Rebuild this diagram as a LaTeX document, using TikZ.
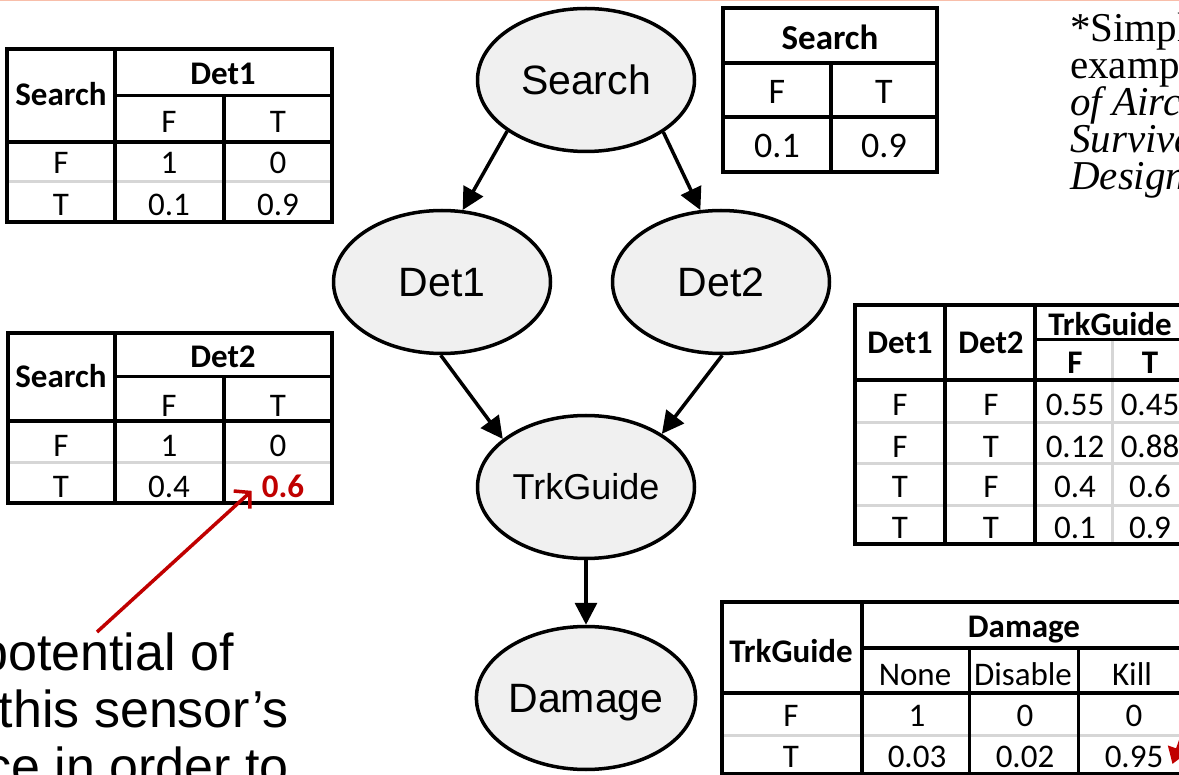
\documentclass[tikz,border=0pt]{standalone}
\usepackage{fontspec}
\setmainfont{Liberation Sans}
\newfontfamily\calfont{Carlito}
\newfontfamily\serfont{Liberation Serif}
\usetikzlibrary{shapes.geometric,arrows.meta}
\definecolor{nodefill}{RGB}{240,240,240}
\definecolor{gridgray}{RGB}{214,214,214}
\definecolor{annred}{RGB}{192,0,0}
\definecolor{topline}{RGB}{248,190,170}
\tikzset{
  bnode/.style={ellipse, draw=black, line width=3.5pt, fill=nodefill,
    minimum width=217pt, minimum height=143pt, inner sep=0pt,
    text height=29.4pt, text depth=0pt, font=\fontsize{41}{41}\selectfont},
  arr/.style={line width=3.5pt, -{Triangle[length=22pt,width=22pt]}},
  thk/.style={line width=3.8pt, line cap=rect},
  xthk/.style={line width=4.3pt, line cap=rect},
  mid/.style={line width=3pt},
  grl/.style={line width=3pt, draw=gridgray},
  hdA/.style={inner sep=0pt, text height=21.3pt, text depth=0pt, font=\calfont\bfseries\fontsize{33}{33}\selectfont},
  cellA/.style={inner sep=0pt, text height=21.3pt, text depth=0pt, font=\calfont\fontsize{33}{33}\selectfont},
  hdB/.style={inner sep=0pt, text height=22.5pt, text depth=0pt, font=\calfont\bfseries\fontsize{35}{35}\selectfont},
  cellB/.style={inner sep=0pt, text height=23.2pt, text depth=0pt, font=\calfont\fontsize{36}{36}\selectfont},
  hdC/.style={inner sep=0pt, text height=21.3pt, text depth=0pt, font=\calfont\bfseries\fontsize{33}{33}\selectfont},
  cellC/.style={inner sep=0pt, text height=21.3pt, text depth=0pt, font=\calfont\fontsize{33}{33}\selectfont},
  note/.style={inner sep=0pt, anchor=base west, font=\serfont\fontsize{41}{41}\selectfont},
  bigtxt/.style={inner sep=0pt, anchor=base east, font=\fontsize{52}{52}\selectfont},
  redarr/.style={draw=annred, line width=3.5pt},
}
\begin{document}
\begin{tikzpicture}[x=1pt,y=-1pt]
\useasboundingbox (0,0) rectangle (1179,775);
\clip (0,0) rectangle (1179,775);
\fill[white] (0,0) rectangle (1179,775);
\draw[topline, line width=2pt] (0,0) -- (1179,0);

% ---------- Table 1: Det1 | Search ----------
\draw[grl] (7,182) -- (332,182);
\draw[thk] (7,49) rectangle (332,222);
\draw[thk] (115,49) -- (115,222);
\draw[mid] (115,96) -- (332,96);
\draw[thk] (224,96) -- (224,222);
\draw[xthk] (7,142) -- (332,142);
\node[hdA] (t1s) at (61,95) {Search};
\node[hdA] (t1d) at (223,74) {Det1};
\node[cellA] (t1hf) at (169,122) {F};
\node[cellA] (t1ht) at (278,122) {T};
\node[cellA] (t1r1) at (61,163) {F};
\node[cellA] (t1a) at (169,163) {1};
\node[cellA] (t1b) at (278,163) {0};
\node[cellA] (t1r2) at (61,205) {T};
\node[cellA] (t1c) at (169,205) {0.1};
\node[cellA] (t1e) at (278,205) {0.9};

% ---------- Table 2: Det2 | Search ----------
\draw[grl] (8,463) -- (332,463);
\draw[thk] (8,333) rectangle (332,503);
\draw[thk] (115,333) -- (115,503);
\draw[mid] (115,377) -- (332,377);
\draw[thk] (224,377) -- (224,503);
\draw[xthk] (8,421) -- (332,421);
\node[hdA] (t2s) at (61,377) {Search};
\node[hdA] (t2d) at (223,357) {Det2};
\node[cellA] (t2hf) at (169,406) {F};
\node[cellA] (t2ht) at (278,406) {T};
\node[cellA] (t2r1) at (61,446) {F};
\node[cellA] (t2a) at (169,446) {1};
\node[cellA] (t2b) at (278,446) {0};
\node[cellA] (t2r2) at (61,487) {T};
\node[cellA] (t2c) at (169,487) {0.4};
\node[hdA, text=annred] (t2v) at (283,487) {0.6};

% ---------- Table 3: Search prior ----------
\draw[thk] (723,8) rectangle (937,172);
\draw[thk] (723,63) -- (937,63);
\draw[xthk] (723,117) -- (937,117);
\draw[thk] (831,63) -- (831,172);
\node[hdB] (t3s) at (830,38) {Search};
\node[cellB] (t3f) at (777,92) {F};
\node[cellB] (t3t) at (884,92) {T};
\node[cellB] (t3a) at (777,146) {0.1};
\node[cellB] (t3b) at (884,146) {0.9};

% ---------- Table 4: TrkGuide ----------
\draw[grl] (855,423) -- (1200,423);
\draw[grl] (855,464) -- (1200,464);
\draw[grl] (855,506) -- (1200,506);
\draw[grl] (1112,340) -- (1112,544);
\draw[xthk] (1200,305) -- (855,305) -- (855,544) -- (1200,544);
\draw[thk] (945,305) -- (945,544);
\draw[thk] (1035,305) -- (1035,544);
\draw[mid] (1035,340) -- (1200,340);
\draw[xthk] (855,380) -- (1200,380);
\node[hdC] (t4d1) at (900,343) {Det1};
\node[hdC] (t4d2) at (991,343) {Det2};
\node[hdC] (t4tg) at (1110,325) {TrkGuide};
\node[hdC] (t4f) at (1075,363) {F};
\node[hdC] (t4t) at (1150,363) {T};
\node[cellC] (t4a1) at (900,405) {F};
\node[cellC] (t4a2) at (991,405) {F};
\node[cellC] (t4a3) at (1075,405) {0.55};
\node[cellC] (t4a4) at (1150,405) {0.45};
\node[cellC] (t4b1) at (900,447) {F};
\node[cellC] (t4b2) at (991,447) {T};
\node[cellC] (t4b3) at (1075,447) {0.12};
\node[cellC] (t4b4) at (1150,447) {0.88};
\node[cellC] (t4c1) at (900,487) {T};
\node[cellC] (t4c2) at (991,487) {F};
\node[cellC] (t4c3) at (1075,487) {0.4};
\node[cellC] (t4c4) at (1150,487) {0.6};
\node[cellC] (t4d1v) at (900,528) {T};
\node[cellC] (t4d2v) at (991,528) {T};
\node[cellC] (t4d3) at (1075,528) {0.1};
\node[cellC] (t4d4) at (1150,528) {0.9};

% ---------- Table 5: Damage ----------
\draw[grl] (722,735) -- (1200,735);
\draw[xthk] (1200,602) -- (722,602) -- (722,780);
\draw[thk] (862,602) -- (862,780);
\draw[thk] (862,648) -- (1200,648);
\draw[xthk] (722,693) -- (1200,693);
\draw[mid] (969,648) -- (969,780);
\draw[mid] (1078,648) -- (1078,780);
\draw[thk] (722,774) -- (1200,774);
\node[hdC] (t5tg) at (791,652) {TrkGuide};
\node[hdC] (t5dm) at (1024,627) {Damage};
\node[cellC] (t5n) at (915,675) {None};
\node[cellC] (t5ds) at (1023,675) {Disable};
\node[cellC] (t5k) at (1132,675) {Kill};
\node[cellC] (t5r1) at (791,716) {F};
\node[cellC] (t5a1) at (917,716) {1};
\node[cellC] (t5a2) at (1025,716) {0};
\node[cellC] (t5a3) at (1134,716) {0};
\node[cellC] (t5r2) at (791,757) {T};
\node[cellC] (t5b1) at (917,757) {0.03};
\node[cellC] (t5b2) at (1025,757) {0.02};
\node[cellC] (t5b3) at (1134,757) {0.95};

% ---------- Bayesian network ----------
\node[bnode] (search) at (586,80) {Search};
\node[bnode] (det1) at (442,282) {Det1};
\node[bnode] (det2) at (721,282) {Det2};
\node[bnode, text height=25.8pt, font=\fontsize{36}{36}\selectfont] (trk) at (586,487) {TrkGuide};
\node[bnode] (dmg) at (586,698) {Damage};
\draw[arr] (search.213) -- (det1.74);
\draw[arr] (search.326) -- (det2.106);
\draw[arr] (det1.269) -- (trk.150);
\draw[arr] (det2.271) -- (trk.35);
\draw[arr] (trk.south) -- (dmg.north);

% ---------- note ----------
\node[note] (n1) at (1070,42) {*Simpli};
\node[note] (n2) at (1070,79) {exampl};
\node[note] (n3) at (1070,116) {\itshape of Aircr};
\node[note] (n4) at (1070,153) {\itshape Survival};
\node[note] (n5) at (1070,190) {\itshape Design};

% ---------- bottom-left annotation ----------
\node[bigtxt] (b1) at (234,670) {potential of};
\node[bigtxt] (b2) at (289,727) {this sensor’s};
\node[bigtxt] (b3) at (289,784) {ce in order to};
\coordinate (ann1) at (97,632);
\draw[redarr, -{Straight Barb[length=11pt,width=24pt]}] (ann1) -- ([xshift=-10pt,yshift=7pt]t2v.south west);
\coordinate (ann2) at (1198,691);
\draw[redarr, fill=annred, -{Triangle[length=16pt,width=20pt]}] (ann2) -- ([xshift=9pt,yshift=-7pt]t5b3.east);
\end{tikzpicture}
\end{document}
